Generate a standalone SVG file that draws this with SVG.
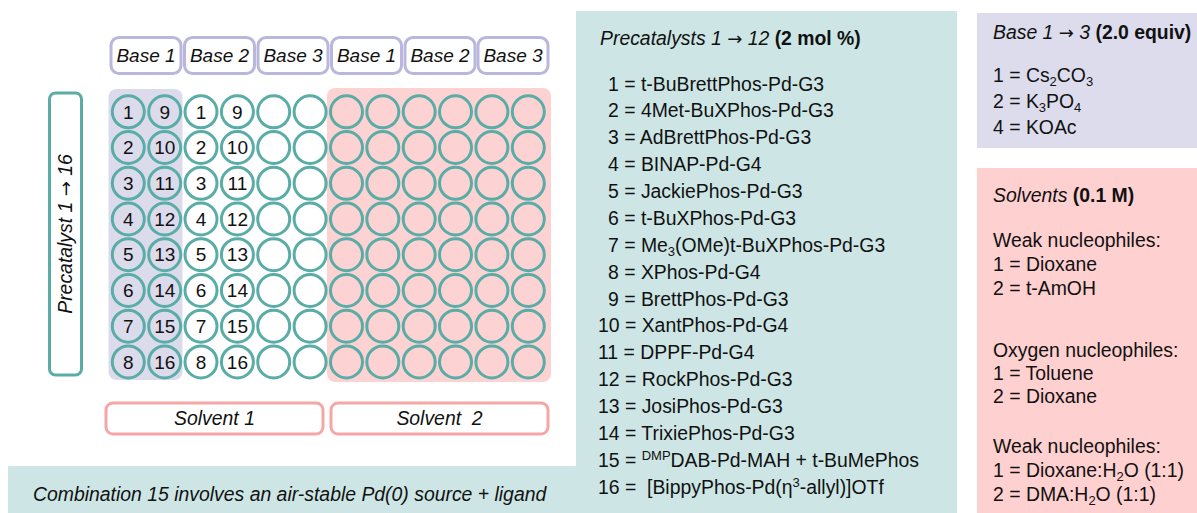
<svg xmlns="http://www.w3.org/2000/svg" xmlns:xlink="http://www.w3.org/1999/xlink" width="1197" height="513" viewBox="0 0 1197 513">
<defs>
<style>
text{font-family:"Liberation Sans",Arial,sans-serif;font-size:19.4px;fill:#111}
.it{font-style:italic}
.b{font-weight:bold}
.c{text-anchor:middle}
.wl{font-size:19px}
.ar{font-family:"DejaVu Sans",sans-serif;font-style:normal;font-size:18px}
.well{fill:none;stroke:#5aaca7;stroke-width:3}
.bbox{fill:#fff;stroke:#b9b7dd;stroke-width:3}
.sbox{fill:#fff;stroke:#f7a6a6;stroke-width:3}
.sub{font-size:13px}
</style>
<circle id="w" class="well" r="16" cx="0" cy="0"/>
</defs>
<rect width="1197" height="513" fill="#fff"/>

<g id="panels">
<rect x="576" y="11" width="381" height="502" fill="#cde6e5"/>
<rect x="8" y="466" width="568" height="47" fill="#cde6e5"/>
<rect x="977" y="13" width="220" height="135" fill="#dddcec"/>
<rect x="977" y="168" width="220" height="345" fill="#fed0d0"/>
</g>

<g id="plate">
<rect x="108.5" y="89" width="74" height="291" rx="8" fill="#dcdbec"/>
<rect x="327" y="88" width="224" height="294" rx="8" fill="#fdd2d2"/>
<g id="wells">
<use xlink:href="#w" x="128.3" y="111.8"/><use xlink:href="#w" x="164.7" y="111.8"/><use xlink:href="#w" x="201" y="111.8"/><use xlink:href="#w" x="237.4" y="111.8"/><use xlink:href="#w" x="273.7" y="111.8"/><use xlink:href="#w" x="310.1" y="111.8"/><use xlink:href="#w" x="346.5" y="111.8"/><use xlink:href="#w" x="382.8" y="111.8"/><use xlink:href="#w" x="419.2" y="111.8"/><use xlink:href="#w" x="455.5" y="111.8"/><use xlink:href="#w" x="491.9" y="111.8"/><use xlink:href="#w" x="528.3" y="111.8"/>
<use xlink:href="#w" x="128.3" y="147.5"/><use xlink:href="#w" x="164.7" y="147.5"/><use xlink:href="#w" x="201" y="147.5"/><use xlink:href="#w" x="237.4" y="147.5"/><use xlink:href="#w" x="273.7" y="147.5"/><use xlink:href="#w" x="310.1" y="147.5"/><use xlink:href="#w" x="346.5" y="147.5"/><use xlink:href="#w" x="382.8" y="147.5"/><use xlink:href="#w" x="419.2" y="147.5"/><use xlink:href="#w" x="455.5" y="147.5"/><use xlink:href="#w" x="491.9" y="147.5"/><use xlink:href="#w" x="528.3" y="147.5"/>
<use xlink:href="#w" x="128.3" y="183.3"/><use xlink:href="#w" x="164.7" y="183.3"/><use xlink:href="#w" x="201" y="183.3"/><use xlink:href="#w" x="237.4" y="183.3"/><use xlink:href="#w" x="273.7" y="183.3"/><use xlink:href="#w" x="310.1" y="183.3"/><use xlink:href="#w" x="346.5" y="183.3"/><use xlink:href="#w" x="382.8" y="183.3"/><use xlink:href="#w" x="419.2" y="183.3"/><use xlink:href="#w" x="455.5" y="183.3"/><use xlink:href="#w" x="491.9" y="183.3"/><use xlink:href="#w" x="528.3" y="183.3"/>
<use xlink:href="#w" x="128.3" y="219"/><use xlink:href="#w" x="164.7" y="219"/><use xlink:href="#w" x="201" y="219"/><use xlink:href="#w" x="237.4" y="219"/><use xlink:href="#w" x="273.7" y="219"/><use xlink:href="#w" x="310.1" y="219"/><use xlink:href="#w" x="346.5" y="219"/><use xlink:href="#w" x="382.8" y="219"/><use xlink:href="#w" x="419.2" y="219"/><use xlink:href="#w" x="455.5" y="219"/><use xlink:href="#w" x="491.9" y="219"/><use xlink:href="#w" x="528.3" y="219"/>
<use xlink:href="#w" x="128.3" y="254.7"/><use xlink:href="#w" x="164.7" y="254.7"/><use xlink:href="#w" x="201" y="254.7"/><use xlink:href="#w" x="237.4" y="254.7"/><use xlink:href="#w" x="273.7" y="254.7"/><use xlink:href="#w" x="310.1" y="254.7"/><use xlink:href="#w" x="346.5" y="254.7"/><use xlink:href="#w" x="382.8" y="254.7"/><use xlink:href="#w" x="419.2" y="254.7"/><use xlink:href="#w" x="455.5" y="254.7"/><use xlink:href="#w" x="491.9" y="254.7"/><use xlink:href="#w" x="528.3" y="254.7"/>
<use xlink:href="#w" x="128.3" y="290.5"/><use xlink:href="#w" x="164.7" y="290.5"/><use xlink:href="#w" x="201" y="290.5"/><use xlink:href="#w" x="237.4" y="290.5"/><use xlink:href="#w" x="273.7" y="290.5"/><use xlink:href="#w" x="310.1" y="290.5"/><use xlink:href="#w" x="346.5" y="290.5"/><use xlink:href="#w" x="382.8" y="290.5"/><use xlink:href="#w" x="419.2" y="290.5"/><use xlink:href="#w" x="455.5" y="290.5"/><use xlink:href="#w" x="491.9" y="290.5"/><use xlink:href="#w" x="528.3" y="290.5"/>
<use xlink:href="#w" x="128.3" y="326.2"/><use xlink:href="#w" x="164.7" y="326.2"/><use xlink:href="#w" x="201" y="326.2"/><use xlink:href="#w" x="237.4" y="326.2"/><use xlink:href="#w" x="273.7" y="326.2"/><use xlink:href="#w" x="310.1" y="326.2"/><use xlink:href="#w" x="346.5" y="326.2"/><use xlink:href="#w" x="382.8" y="326.2"/><use xlink:href="#w" x="419.2" y="326.2"/><use xlink:href="#w" x="455.5" y="326.2"/><use xlink:href="#w" x="491.9" y="326.2"/><use xlink:href="#w" x="528.3" y="326.2"/>
<use xlink:href="#w" x="128.3" y="361.9"/><use xlink:href="#w" x="164.7" y="361.9"/><use xlink:href="#w" x="201" y="361.9"/><use xlink:href="#w" x="237.4" y="361.9"/><use xlink:href="#w" x="273.7" y="361.9"/><use xlink:href="#w" x="310.1" y="361.9"/><use xlink:href="#w" x="346.5" y="361.9"/><use xlink:href="#w" x="382.8" y="361.9"/><use xlink:href="#w" x="419.2" y="361.9"/><use xlink:href="#w" x="455.5" y="361.9"/><use xlink:href="#w" x="491.9" y="361.9"/><use xlink:href="#w" x="528.3" y="361.9"/>
</g>
<g id="well-labels">
<text class="c wl" x="128.3" y="118.5">1</text><text class="c wl" x="164.7" y="118.5">9</text><text class="c wl" x="201" y="118.5">1</text><text class="c wl" x="237.4" y="118.5">9</text>
<text class="c wl" x="128.3" y="154.2">2</text><text class="c wl" x="164.7" y="154.2">10</text><text class="c wl" x="201" y="154.2">2</text><text class="c wl" x="237.4" y="154.2">10</text>
<text class="c wl" x="128.3" y="190">3</text><text class="c wl" x="164.7" y="190">11</text><text class="c wl" x="201" y="190">3</text><text class="c wl" x="237.4" y="190">11</text>
<text class="c wl" x="128.3" y="225.7">4</text><text class="c wl" x="164.7" y="225.7">12</text><text class="c wl" x="201" y="225.7">4</text><text class="c wl" x="237.4" y="225.7">12</text>
<text class="c wl" x="128.3" y="261.4">5</text><text class="c wl" x="164.7" y="261.4">13</text><text class="c wl" x="201" y="261.4">5</text><text class="c wl" x="237.4" y="261.4">13</text>
<text class="c wl" x="128.3" y="297.2">6</text><text class="c wl" x="164.7" y="297.2">14</text><text class="c wl" x="201" y="297.2">6</text><text class="c wl" x="237.4" y="297.2">14</text>
<text class="c wl" x="128.3" y="332.9">7</text><text class="c wl" x="164.7" y="332.9">15</text><text class="c wl" x="201" y="332.9">7</text><text class="c wl" x="237.4" y="332.9">15</text>
<text class="c wl" x="128.3" y="368.6">8</text><text class="c wl" x="164.7" y="368.6">16</text><text class="c wl" x="201" y="368.6">8</text><text class="c wl" x="237.4" y="368.6">16</text>
</g>
</g>

<g id="base-labels">
<g id="base1a"><rect class="bbox" x="111" y="37.5" width="70" height="36" rx="8"/><text class="it c wl" x="146" y="62">Base 1</text></g>
<g id="base2a"><rect class="bbox" x="184.5" y="37.5" width="70" height="36" rx="8"/><text class="it c wl" x="219.5" y="62">Base 2</text></g>
<g id="base3a"><rect class="bbox" x="258" y="37.5" width="70" height="36" rx="8"/><text class="it c wl" x="293" y="62">Base 3</text></g>
<g id="base1b"><rect class="bbox" x="331.5" y="37.5" width="70" height="36" rx="8"/><text class="it c wl" x="366.5" y="62">Base 1</text></g>
<g id="base2b"><rect class="bbox" x="405" y="37.5" width="70" height="36" rx="8"/><text class="it c wl" x="440" y="62">Base 2</text></g>
<g id="base3b"><rect class="bbox" x="478" y="37.5" width="70" height="36" rx="8"/><text class="it c wl" x="513" y="62">Base 3</text></g>
</g>

<g id="precat-label">
<rect x="49.5" y="93" width="32" height="282" rx="6" fill="#fff" stroke="#5aaca7" stroke-width="3"/>
<text class="it c" transform="translate(72,234) rotate(-90)">Precatalyst 1 <tspan class="ar">→</tspan> 16</text>
</g>

<g id="solvent-labels">
<g id="solv1"><rect class="sbox" x="106" y="403" width="217" height="31" rx="7"/><text class="it c" x="214.5" y="425">Solvent 1</text></g>
<g id="solv2"><rect class="sbox" x="331" y="403" width="217" height="31" rx="7"/><text class="it c" x="439.5" y="425">Solvent&#160; 2</text></g>
</g>

<g id="banner">
<text class="it" x="33" y="501">Combination 15 involves an air-stable Pd(0) source + ligand</text>
</g>

<g id="precat-list">
<text x="600" y="45"><tspan class="it">Precatalysts 1 <tspan class="ar">→</tspan> 12</tspan> <tspan class="b">(2 mol %)</tspan></text>
<text x="608" y="90.5">1 = t-BuBrettPhos-Pd-G3</text>
<text x="608" y="117.4">2 = 4Met-BuXPhos-Pd-G3</text>
<text x="608" y="144.2">3 = AdBrettPhos-Pd-G3</text>
<text x="608" y="171.1">4 = BINAP-Pd-G4</text>
<text x="608" y="198">5 = JackiePhos-Pd-G3</text>
<text x="608" y="224.9">6 = t-BuXPhos-Pd-G3</text>
<text x="608" y="251.7">7 = Me<tspan class="sub" baseline-shift="-4">3</tspan>(OMe)t-BuXPhos-Pd-G3</text>
<text x="608" y="278.6">8 = XPhos-Pd-G4</text>
<text x="608" y="305.5">9 = BrettPhos-Pd-G3</text>
<text x="598" y="332.3">10 = XantPhos-Pd-G4</text>
<text x="598" y="359.2">11 = DPPF-Pd-G4</text>
<text x="598" y="386.1">12 = RockPhos-Pd-G3</text>
<text x="598" y="413">13 = JosiPhos-Pd-G3</text>
<text x="598" y="439.8">14 = TrixiePhos-Pd-G3</text>
<text x="598" y="466.7">15 = <tspan class="sub" baseline-shift="7">DMP</tspan>DAB-Pd-MAH + t-BuMePhos</text>
<text x="598" y="493.6">16 =&#160; [BippyPhos-Pd(η<tspan class="sub" baseline-shift="7">3</tspan>-allyl)]OTf</text>
</g>

<g id="base-list">
<text x="993" y="39"><tspan class="it">Base 1 <tspan class="ar">→</tspan> 3</tspan> <tspan class="b">(2.0 equiv)</tspan></text>
<text x="993" y="82">1 = Cs<tspan class="sub" baseline-shift="-4">2</tspan>CO<tspan class="sub" baseline-shift="-4">3</tspan></text>
<text x="993" y="108">2 = K<tspan class="sub" baseline-shift="-4">3</tspan>PO<tspan class="sub" baseline-shift="-4">4</tspan></text>
<text x="993" y="134">4 = KOAc</text>
</g>

<g id="solvent-list">
<text x="993" y="202"><tspan class="it">Solvents</tspan> <tspan class="b">(0.1 M)</tspan></text>
<text x="993" y="247">Weak nucleophiles:</text>
<text x="993" y="271">1 = Dioxane</text>
<text x="993" y="295">2 = t-AmOH</text>
<text x="993" y="357">Oxygen nucleophiles:</text>
<text x="993" y="380">1 = Toluene</text>
<text x="993" y="403">2 = Dioxane</text>
<text x="993" y="453">Weak nucleophiles:</text>
<text x="993" y="477">1 = Dioxane:H<tspan class="sub" baseline-shift="-4">2</tspan>O (1:1)</text>
<text x="993" y="501">2 = DMA:H<tspan class="sub" baseline-shift="-4">2</tspan>O (1:1)</text>
</g>
</svg>
